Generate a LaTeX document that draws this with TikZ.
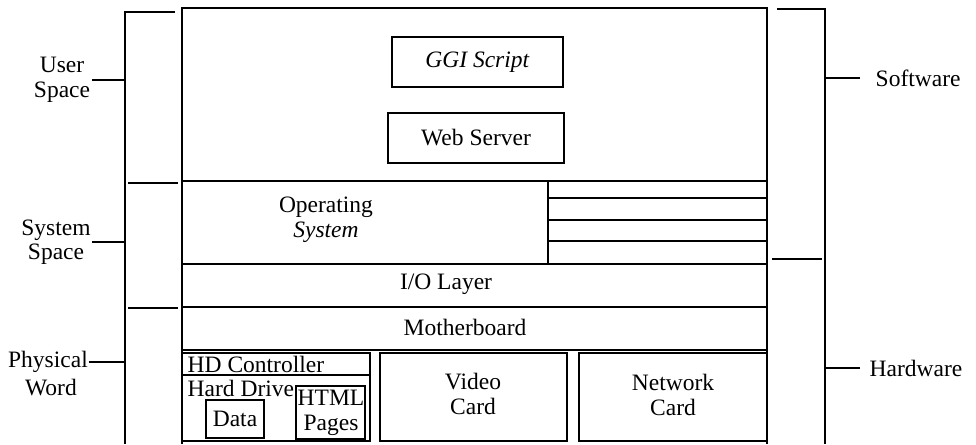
\documentclass[tikz,border=0pt]{standalone}
\usepackage{fontspec}
\setmainfont{Liberation Serif}
\begin{document}
\begin{tikzpicture}[x=1pt,y=-1pt,line width=1.4pt,
  box/.style={draw,inner sep=0pt,outer sep=0pt,anchor=north west},
  lbl/.style={font=\fontsize{23.5}{24.5}\selectfont,align=center,inner sep=0pt},
  thin/.style={line width=1.1pt}]
\useasboundingbox (0,0) rectangle (976,444);
% outer frame (open at bottom)
\coordinate (fbl) at (182,444);
\coordinate (ftl) at (182,8);
\coordinate (ftr) at (767,8);
\coordinate (fbr) at (767,444);
\draw (fbl) -- (ftl) -- (ftr) -- (fbr);
% user space boxes
\node[box,minimum width=171pt,minimum height=50pt] (ggi) at (392,37) {};
\node[lbl] (ggit) at (ggi.center) {\textit{GGI Script}};
\node[box,minimum width=176pt,minimum height=50pt] (web) at (388,113) {};
\node[lbl] (webt) at (web.center) {Web Server};
% operating system
\node[box,minimum width=366pt,minimum height=83pt] (os) at (182,181) {};
\node[lbl] (ost) at (326,220) {Operating\\\textit{System}};
\node[box,minimum width=219pt,minimum height=17pt] (r1) at (548,181) {};
\node[box,minimum width=219pt,minimum height=22pt] (r2) at (548,198) {};
\node[box,minimum width=219pt,minimum height=21pt] (r3) at (548,220) {};
\node[box,minimum width=219pt,minimum height=23pt] (r4) at (548,241) {};
% I/O layer and motherboard
\node[box,minimum width=585pt,minimum height=43pt] (io) at (182,264) {};
\node[lbl] (iot) at (446,284) {I/O Layer};
\node[box,minimum width=585pt,minimum height=43pt] (mb) at (182,307) {};
\node[lbl] (mbt) at (465,327) {Motherboard};
% hard drive
\node[box,minimum width=188pt,minimum height=88pt] (hd) at (182,353) {};
\node[box,minimum width=188pt,minimum height=22pt] (hdc) at (182,353) {};
\node[lbl,anchor=west] (hdct) at (187,364) {HD Controller};
\node[lbl,anchor=west] (hdt) at (187,388) {Hard Drive};
\node[box,minimum width=58pt,minimum height=38pt] (data) at (206,400) {};
\node[lbl] (datat) at (data.center) {Data};
\node[box,minimum width=69pt,minimum height=53pt] (html) at (296,386) {};
\node[lbl] (htmlt) at (331,413) {HTML\\Pages};
% cards
\node[box,minimum width=187pt,minimum height=88pt] (video) at (380,353) {};
\node[lbl] (videot) at (473,394) {Video\\Card};
\node[box,minimum width=188pt,minimum height=88pt] (net) at (579,353) {};
\node[lbl] (nett) at (673,395) {Network\\Card};
% left bracket
\coordinate (lbtop) at (175,12);
\coordinate (lbt) at (125,12);
\coordinate (lbb) at (125,444);
\draw (lbtop) -- (lbt) -- (lbb);
\coordinate (ls1a) at (128,183);
\coordinate (ls1b) at (178,183);
\coordinate (ls2a) at (128,308);
\coordinate (ls2b) at (178,308);
\draw (ls1a) -- (ls1b);
\draw (ls2a) -- (ls2b);
\node[lbl] (user) at (62,80) {User\\Space};
\node[lbl] (sys) at (56,242) {System\\Space};
\node[lbl] (phys) at (48,362) {Physical};
\node[lbl] (word) at (51,388) {Word};
\draw[thin] ([xshift=1pt]user.east) -- (user.east -| lbt);
\draw[thin] ([xshift=1pt]sys.east) -- (sys.east -| lbt);
\draw[thin] (phys.east) -- (phys.east -| lbt);
% right bracket
\coordinate (rbtop) at (777,9);
\coordinate (rbt) at (825,9);
\coordinate (rbb) at (825,444);
\draw (rbtop) -- (rbt) -- (rbb);
\coordinate (rsa) at (772,259);
\coordinate (rsb) at (822,259);
\draw[thin] (rsa) -- (rsb);
\node[lbl,anchor=west,inner xsep=15pt] (sw) at (860,78) {Software};
\node[lbl,anchor=west,inner xsep=9pt] (hw) at (860,368) {Hardware};
\draw[thin] (sw.west) -- (sw.west -| rbt);
\draw[thin] (hw.west) -- (hw.west -| rbt);
\end{tikzpicture}
\end{document}
